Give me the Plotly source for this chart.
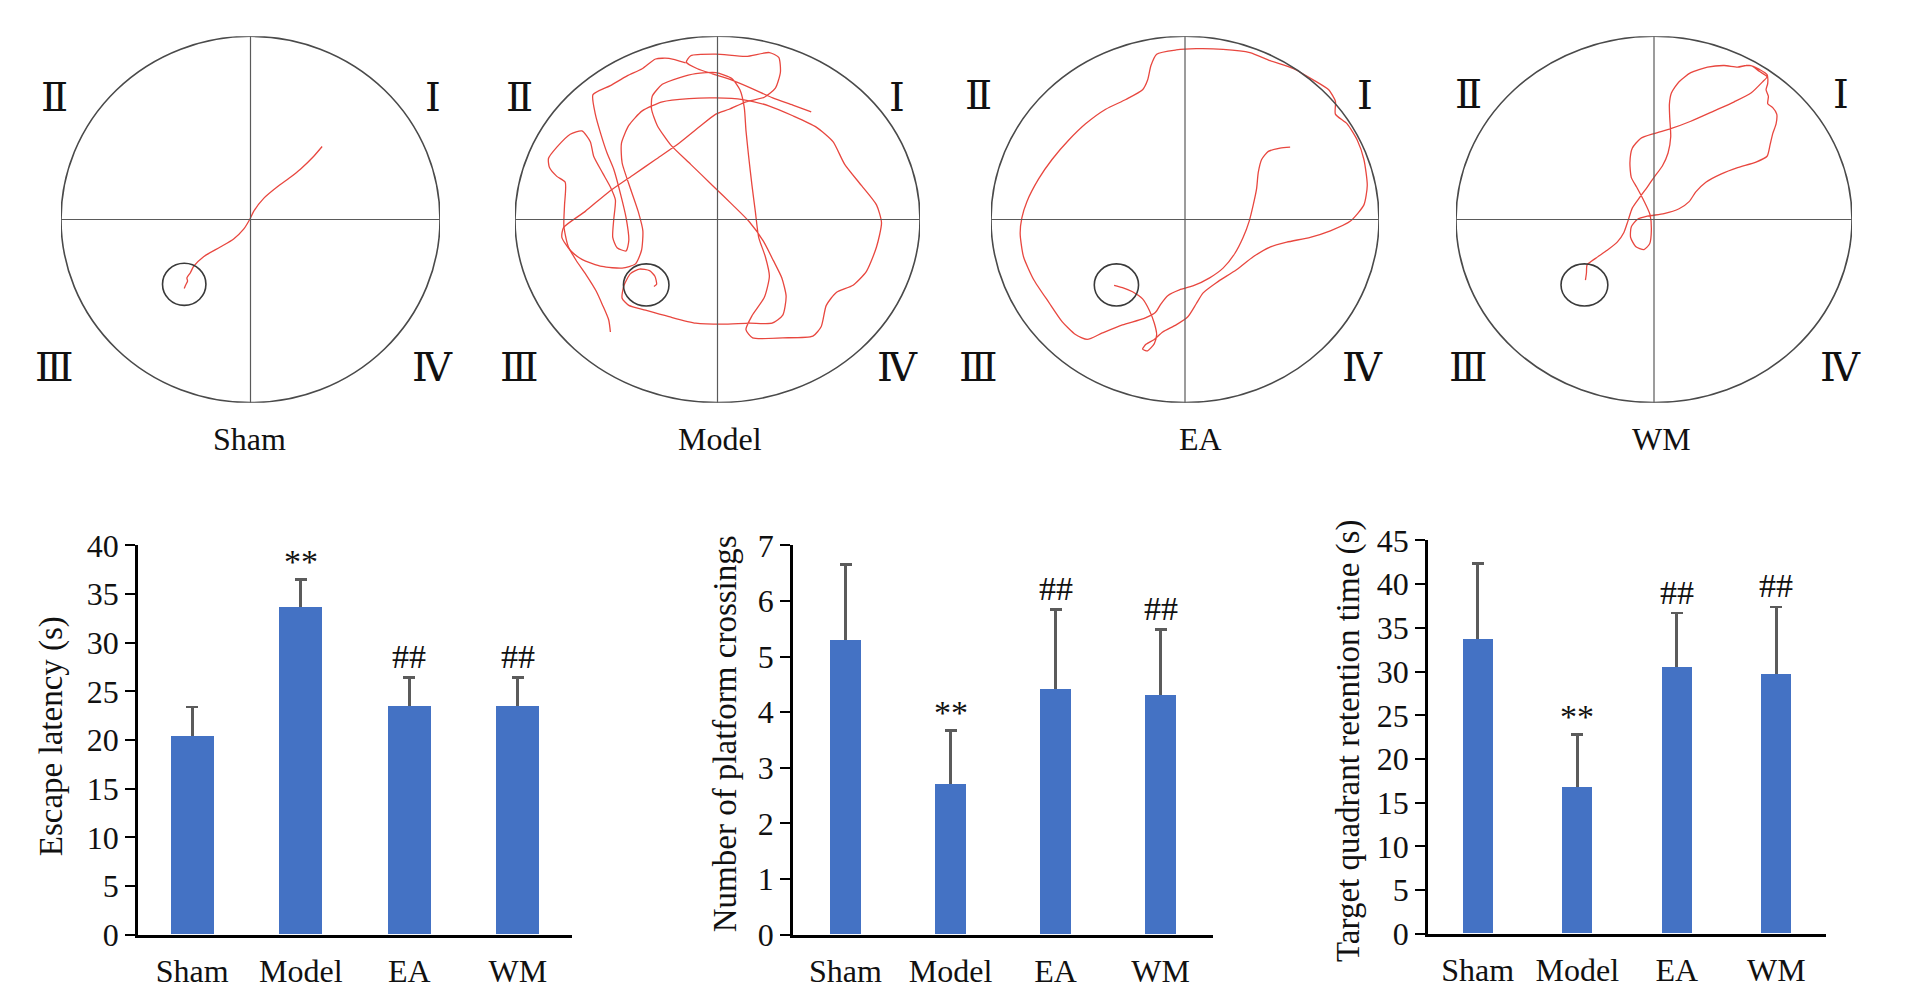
import plotly.graph_objects as go

W, H = 1905, 1000
SERIF = "Liberation Serif, Times New Roman, serif"
ROMAN_FONT = "Liberation Serif, DejaVu Serif, serif"

# ---------------- bar-chart data ----------------
groups = ["Sham", "Model", "EA", "WM"]

escape_mean = [20.4, 33.6, 23.5, 23.5]
escape_sd = [3.0, 2.9, 2.9, 2.9]

cross_mean = [5.30, 2.71, 4.41, 4.31]
cross_sd = [1.36, 0.96, 1.44, 1.18]

target_mean = [33.7, 16.7, 30.5, 29.7]
target_sd = [8.7, 6.1, 6.2, 7.7]

sig_marks = ["", "**", "##", "##"]

escape_title = "Escape latency (s)"
cross_title = "Number of platform crossings"
target_title = "Target quadrant retention time (s)"

# ---------------- swim-path data (tracking-camera coordinates) ----------------
sham_x = [965, 940, 900, 870, 830, 790, 760, 748, 730, 700, 660, 610, 580, 570, 560, 562, 555, 552]
sham_y = [400, 430, 470, 495, 525, 560, 600, 625, 655, 685, 710, 740, 770, 790, 805, 815, 830, 838]

model_x = [985, 930, 870, 810, 750, 690, 645, 612, 625, 700, 790, 860, 888, 893, 878, 845, 790, 740, 700,
           650, 590, 520, 450, 380, 310, 245, 240, 265, 300, 360, 420, 460, 478, 482, 468, 445, 420, 418,
           440, 480, 540, 620, 700, 780, 860, 930, 1000, 1050, 1085, 1135, 1180, 1195, 1180, 1150, 1110,
           1060, 1030, 1015, 990, 900, 810, 790, 808, 845, 860, 848, 828, 818, 808, 798, 790, 785, 772,
           748, 700, 640, 590, 540, 510, 508, 525, 565, 625, 690, 750, 800, 842, 872, 897, 910, 900, 868,
           800, 720, 640, 560, 490, 440, 420, 425, 445, 472, 502, 518, 523, 515,
           None,
           385, 380, 362, 342, 312, 282, 258, 246, 248, 250, 225, 203, 200, 225, 265, 300, 325, 335, 362,
           385, 400, 395, 392, 405, 432, 440, 432, 415, 395, 375, 356, 340, 333, 385, 435, 480, 520, 560,
           610]
model_y = [293, 272, 250, 222, 196, 176, 160, 140, 120, 115, 122, 110, 125, 170, 220, 248, 262, 285, 300,
           340, 390, 440, 490, 540, 600, 650, 680, 720, 748, 770, 775, 762, 720, 660, 600, 530, 450, 390,
           335, 290, 262, 252, 250, 255, 275, 305, 340, 385, 455, 520, 580, 635, 710, 785, 828,
           850, 890, 955, 985, 990, 990, 965, 922, 865, 800, 740, 680, 600, 520, 430, 350, 280, 225,
           190, 172, 175, 188, 208, 245, 285, 335, 395, 455, 520, 580, 632, 692, 752, 805, 862, 920, 945,
           945, 948, 945, 925, 905, 890, 868, 830, 792, 778, 783, 800, 825, 832,
           None,
           972, 935, 890, 845, 795, 750, 705, 645, 580, 510, 492, 465, 437, 402, 362, 352, 385, 430, 482,
           525, 565, 625, 680, 712, 722, 690, 620, 545, 470, 420, 360, 300, 240, 212, 182, 160, 130, 128,
           142]

ea_x = [980, 950, 915, 895, 885, 880, 870, 858, 840, 815, 780, 740, 690, 650, 615, 595, 578, 545, 480,
        420, 375, 340, 300, 260, 215, 185, 175, 180, 195, 230, 270, 320, 370, 430, 490, 540, 555, 565,
        582, 640, 700, 780, 860, 920, 990, 1050, 1095, 1115, 1115, 1150, 1180, 1200, 1210, 1200, 1160,
        1100, 1040, 970, 920, 870, 820, 760, 720, 700, 675, 640, 600, 575, 550, 540, 555, 575, 582, 575,
        560, 540, 510, 480, 455]
ea_y = [402, 405, 415, 440, 480, 530, 580, 630, 680, 730, 775, 805, 830, 842, 860, 885, 912, 930, 950,
        975, 995, 980, 940, 880, 810, 740, 670, 620, 570, 500, 440, 380, 330, 285, 255, 225, 195, 150,
        115, 102, 98, 100, 110, 135, 160, 195, 225, 260, 300, 330, 380, 440, 520, 580, 630,
        660, 680, 695, 710, 740, 780, 820, 852, 885, 925, 950, 972, 995, 1010, 1025, 1030, 1008, 980, 945,
        905, 870, 848, 835, 828]

wm_x = [425, 428, 430, 455, 490, 520, 540, 552, 565, 585, 610, 630, 655, 672, 680, 677, 676, 682, 705,
        740, 790, 840, 880, 905, 925, 945, 968, 970, 965, 972, 970, 985, 997, 995, 985, 977, 968, 935,
        880, 830, 785, 755, 735, 705, 660, 610, 580, 562, 560, 575, 600, 617, 622, 618, 600, 578, 562,
        558, 565, 590, 630, 680, 740, 810, 870, 920, 955, 968, 945, 920, 905]
wm_y = [812, 790, 765, 745, 720, 695, 665, 630, 590, 560, 525, 495, 460, 420, 370, 310, 270, 235, 200,
        172, 155, 150, 155, 150, 152, 162, 178, 205, 225, 245, 268, 280, 300, 330, 360, 395, 430, 448,
        465, 485, 510, 540, 570, 592, 607, 615, 625, 648, 680, 708, 718, 700, 660, 610, 568, 525, 495,
        450, 405, 375, 360, 345, 322, 290, 262, 235, 200, 185, 168, 150, 150]

paths_x = [sham_x, model_x, ea_x, wm_x]
paths_y = [sham_y, model_y, ea_y, wm_y]

# pool frame extents in tracking coordinates, and hidden platform (cx, cy, rx, ry)
pool_xrange = [(183, 1318), (100, 1310), (88, 1245), (38, 1222)]
pool_yrange = (60, 1190)
platforms = [(552, 825, 65, 65), (492, 827, 68, 65), (462, 827, 66, 65), (422, 827, 70, 65)]

quadrant_names = ["Ⅱ", "Ⅰ", "Ⅲ", "Ⅳ"]

# ---------------- layout geometry (pixels) ----------------
pool_px = [(61, 440), (515, 920), (991, 1379), (1456, 1852)]
pool_py = (19, 399)
quad_pos = [
    [(54, 82), (433, 82), (54, 363), (432, 363)],
    [(519, 82), (897, 82), (519, 363), (897, 363)],
    [(978, 80), (1365, 80), (978, 363), (1362, 363)],
    [(1468, 79), (1841, 79), (1468, 363), (1840, 363)],
]
pool_label_pos = [(249, 437), (720, 437), (1200, 437), (1661, 437)]

bar_px = [(138, 572), (793, 1213), (1428, 1826)]
bar_py = [(547, 951), (547, 951), (542, 950)]
bar_width = [0.40, 0.29, 0.30]
title_pos = [(51, 745), (725, 743), (1348, 750)]

fig = go.Figure()
shapes = []
annotations = []


def px2x(p):
    return p / W


def py2y(p):
    return 1 - p / H


# ---------------- pools ----------------
for i in range(4):
    n = i + 1
    xr = "x" if n == 1 else f"x{n}"
    yr = "y" if n == 1 else f"y{n}"
    x0, x1 = pool_xrange[i]
    y0, y1 = pool_yrange
    cx, cy = (x0 + x1) / 2, (y0 + y1) / 2

    fig.add_trace(go.Scatter(
        x=paths_x[i], y=paths_y[i], mode="lines",
        line=dict(color="#e8473f", width=1.3, shape="spline", smoothing=0.6),
        xaxis=xr, yaxis=yr, showlegend=False, hoverinfo="skip", connectgaps=False,
    ))

    fig.layout[f"xaxis{'' if n == 1 else n}"] = dict(
        domain=[px2x(pool_px[i][0]), px2x(pool_px[i][1])], range=[x0, x1],
        visible=False, anchor=yr, fixedrange=True)
    fig.layout[f"yaxis{'' if n == 1 else n}"] = dict(
        domain=[py2y(pool_py[1]), py2y(pool_py[0])], range=[y1, y0],
        visible=False, anchor=xr, fixedrange=True)

    shapes.append(dict(type="circle", xref=xr, yref=yr, x0=x0, x1=x1, y0=y0, y1=y1,
                       line=dict(color="#4a4a4a", width=1.6)))
    shapes.append(dict(type="line", xref=xr, yref=yr, x0=x0, x1=x1, y0=cy, y1=cy,
                       line=dict(color="#5a5a5a", width=1.2)))
    shapes.append(dict(type="line", xref=xr, yref=yr, x0=cx, x1=cx, y0=y0, y1=y1,
                       line=dict(color="#5a5a5a", width=1.2)))
    pcx, pcy, prx, pry = platforms[i]
    shapes.append(dict(type="circle", xref=xr, yref=yr, x0=pcx - prx, x1=pcx + prx,
                       y0=pcy - pry, y1=pcy + pry, line=dict(color="#3a3a3a", width=1.6)))

    for name, (qx, qy) in zip(quadrant_names, quad_pos[i]):
        annotations.append(dict(text=name, x=px2x(qx), y=py2y(qy), xref="paper", yref="paper",
                                showarrow=False, xanchor="center", yanchor="middle",
                                font=dict(family=ROMAN_FONT, size=40, color="#111")))
    lx, ly = pool_label_pos[i]
    annotations.append(dict(text=groups[i], x=px2x(lx), y=py2y(ly), xref="paper", yref="paper",
                            showarrow=False, xanchor="center", yanchor="middle",
                            font=dict(family=SERIF, size=32, color="#111")))

# ---------------- bar charts ----------------
bar_sets = [
    (escape_mean, escape_sd, escape_title, 40, 5),
    (cross_mean, cross_sd, cross_title, 7, 1),
    (target_mean, target_sd, target_title, 45, 5),
]

for j, (means, sds, title, ymax, dtick) in enumerate(bar_sets):
    n = 5 + j
    xr, yr = f"x{n}", f"y{n}"
    tops = [m + s for m, s in zip(means, sds)]
    # error bars first; the lower half is covered by the bars drawn on top
    fig.add_trace(go.Bar(
        x=groups, y=means, width=bar_width[j], xaxis=xr, yaxis=yr,
        marker=dict(color="rgba(0,0,0,0)", line=dict(width=0)),
        error_y=dict(type="data", array=sds, symmetric=True, color="#5b5b5b",
                     thickness=2.6, width=6),
        showlegend=False, hoverinfo="skip"))
    fig.add_trace(go.Bar(
        x=groups, y=means, width=bar_width[j], xaxis=xr, yaxis=yr,
        marker=dict(color="#4472C4", line=dict(width=0)),
        showlegend=False))

    fig.layout[f"xaxis{n}"] = dict(
        domain=[px2x(bar_px[j][0]), px2x(bar_px[j][1])], range=[-0.5, 3.5], anchor=yr,
        type="category", showline=True, linecolor="black", linewidth=3, ticks="",
        showgrid=False, zeroline=False, fixedrange=True, ticklabelstandoff=6,
        tickfont=dict(family=SERIF, size=32, color="#111"))
    fig.layout[f"yaxis{n}"] = dict(
        domain=[py2y(bar_py[j][1]), py2y(bar_py[j][0])], range=[0, ymax], anchor=xr,
        tick0=0, dtick=dtick, showline=True, linecolor="black", linewidth=2.8,
        ticks="outside", ticklen=10, tickwidth=2.4, tickcolor="black",
        showgrid=False, zeroline=False, fixedrange=True,
        tickfont=dict(family=SERIF, size=32, color="#111"))

    for g, mark, top in zip(groups, sig_marks, tops):
        if mark:
            annotations.append(dict(
                text=mark, x=g, y=top, xref=xr, yref=yr, showarrow=False,
                xanchor="center", yanchor="middle", yshift=(18 if mark == "**" else 21),
                font=dict(family=SERIF, size=34, color="#111")))

    tx, ty = title_pos[j]
    annotations.append(dict(text=title, x=px2x(tx), y=py2y(ty), xref="paper", yref="paper",
                            showarrow=False, textangle=-90, xanchor="center", yanchor="middle",
                            font=dict(family=SERIF, size=33, color="#111")))

fig.update_layout(
    width=W, height=H, margin=dict(l=0, r=0, t=0, b=0),
    paper_bgcolor="white", plot_bgcolor="white",
    barmode="overlay", bargap=0, showlegend=False,
    shapes=shapes, annotations=annotations,
)

fig.write_html(
    "out.html",
    config={"displayModeBar": False},
    post_script="document.body.style.margin='0';document.body.style.overflow='hidden';",
)
